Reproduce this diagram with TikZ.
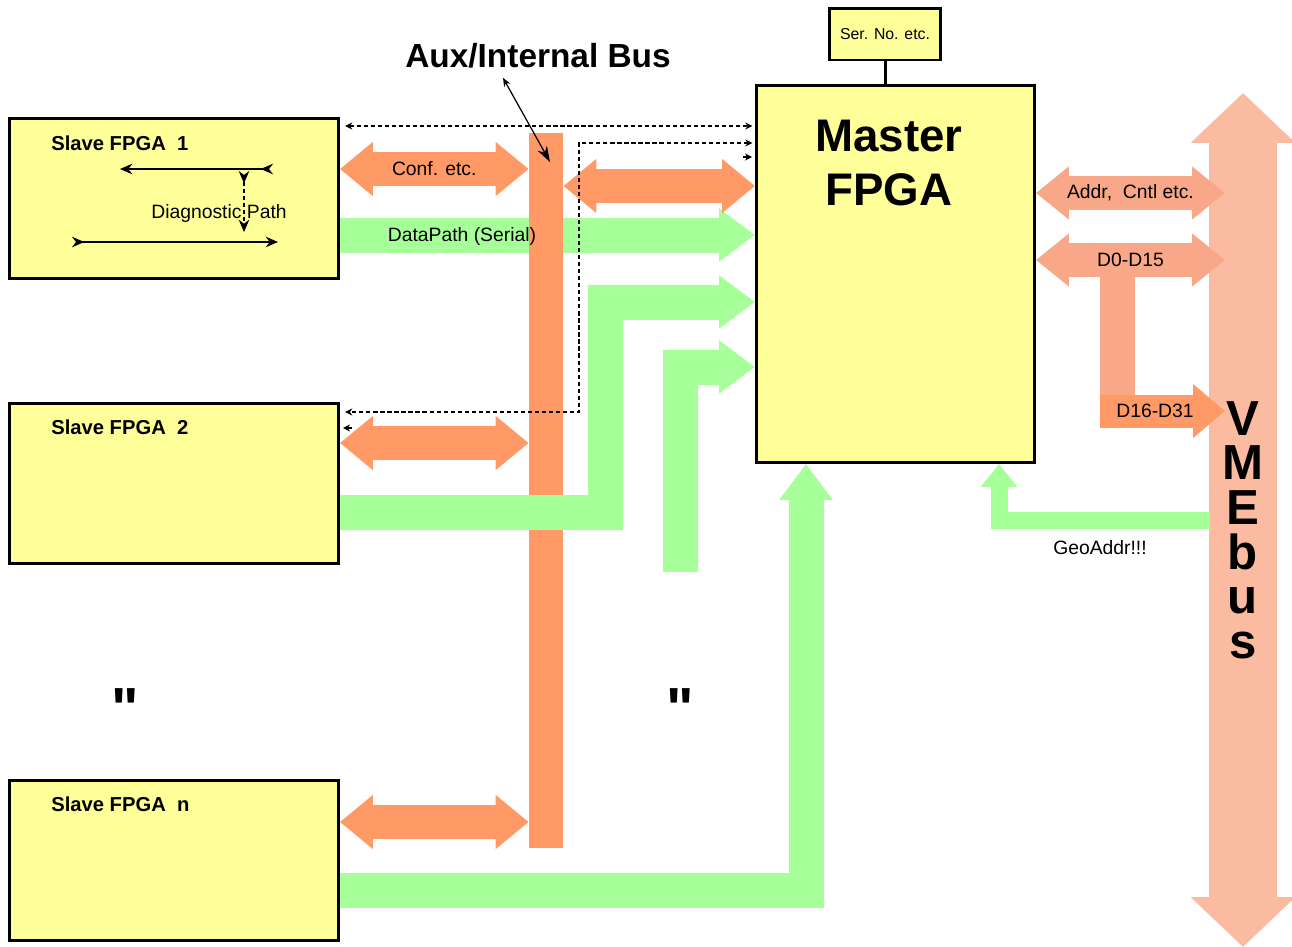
\documentclass[tikz,border=0pt]{standalone}
\usepackage{fontspec}
\setmainfont{Liberation Sans}
\usepackage{xcolor}
\usetikzlibrary{arrows,positioning}
\usetikzlibrary{arrows.meta}
\newcommand{\dittomark}{\XeTeXglyph\XeTeXglyphindex "quotedbl"\relax}
\definecolor{colorFPGA}{HTML}{FFFF99}
\definecolor{colorBus}{HTML}{FF9966}
\definecolor{colorData}{HTML}{A6FF99}
\definecolor{colorVME}{HTML}{FABBA0}
\definecolor{colorVMEsig}{HTML}{F8A888}

\begin{document}
\begin{tikzpicture}[x=0.02cm,y=-0.02cm,>=latex',every node/.append style={align=center},
    fpga/.style={draw, fill=colorFPGA, line width=1.7pt, rectangle, inner sep=0pt},
    slavebox/.style={fpga, minimum width=6.58cm, minimum height=3.2cm},
    title/.style={font=\fontsize{11.5}{13}\selectfont\bfseries, anchor=base west, inner sep=0pt},
    lbl/.style={font=\fontsize{11}{13}\selectfont, inner sep=0pt},
    ditto/.style={font=\fontsize{33}{35}\selectfont\bfseries, inner sep=0pt, anchor=north},
    conf/.style={draw=colorBus, line width=0.68cm, {Triangle[length=0.66cm,width=1.04cm]}-{Triangle[length=0.66cm,width=1.04cm]}},
    data/.style={draw=colorData, line width=0.7cm, line join=miter, -{Triangle[length=0.72cm,width=1.02cm]}},
    vmesig/.style={draw=colorVMEsig, line width=0.68cm, {Triangle[length=0.66cm,width=1.02cm]}-{Triangle[length=0.66cm,width=1.02cm]}},
    ctrl/.style={line width=0.7pt, dash pattern=on 2.4pt off 1.6pt, {Stealth[length=4pt,width=4pt]}-{Stealth[length=4pt,width=4pt]}},
    diag/.style={line width=0.8pt, {Stealth[length=7pt,width=6pt,reversed]}-{Stealth[length=7pt,width=6pt]}},
  ]
    \useasboundingbox (0,0) rectangle (1292,947);
    % VMEbus backbone
    \coordinate (vmetop) at (1243,93);
    \coordinate (vmebot) at (1243,947);
    \coordinate (vmeL) at (1225,0);
    \coordinate (geo) at (1210,520);
    \draw[colorVME, line width=1.36cm, {Triangle[length=1cm,width=2.04cm]}-{Triangle[length=1cm,width=2.04cm]}] (vmetop) -- (vmebot);
    \node[font=\fontsize{28}{25.4}\selectfont\bfseries, inner sep=0pt] (vmelbl) at (1243,530) {V\\M\\E\\b\\u\\s};
    % boards
    \node [slavebox, anchor=north west] (slave1) at (8,117) {};
    \node [slavebox, below=2.44cm of slave1] (slave2) {};
    \node [slavebox, below=4.28cm of slave2] (slaven) {};
    \node [fpga, minimum width=5.56cm, minimum height=7.54cm, anchor=north west] (master) at (755,84) {};
    \node [fpga, minimum width=2.22cm, minimum height=1.04cm, font=\fontsize{9}{11}\selectfont] (serno) at (885,34) {Ser. No. etc.};
    \draw[line width=1.7pt] (serno.south) -- (serno.south |- master.north);
    \node[font=\fontsize{26}{31}\selectfont\bfseries, inner sep=0pt] (mastertxt) at (889,163) {Master\\FPGA};
    \node[title] (title1) at ([shift={(43,33)}]slave1.north west) {Slave FPGA\ \ 1};
    \node[title] (title2) at ([shift={(43,33)}]slave2.north west) {Slave FPGA\ \ 2};
    \node[title] (titlen) at ([shift={(43,33)}]slaven.north west) {Slave FPGA\ \ n};
    \node[ditto] (ditto1) at (125,688) {\dittomark};
    \node[ditto] (ditto2) at (680,688) {\dittomark};
    % VME side
    \draw[vmesig] (master.east |- 0,193) -- (vmeL |- 0,193) node[lbl, midway, text=black] {Addr,\ \ Cntl etc.};
    \draw[colorVMEsig, line width=0.7cm] (1117,260) -- (1117,395);
    \draw[vmesig] (master.east |- 0,260) -- (vmeL |- 0,260) node[lbl, midway, text=black] {D0-D15};
    \draw[colorBus, line width=0.66cm, -{Triangle[length=0.64cm,width=1.04cm]}] (1100,411) -- (vmeL |- 0,411) node[lbl, pos=0.44, text=black] {D16-D31};
    \draw[colorData, line width=0.34cm, line join=miter, -{Triangle[length=0.46cm,width=0.7cm]}] (geo) -| (master.south -| 999,0);
    \node[lbl] (geolbl) at (1100,548) {GeoAddr!!!};
    % data path under the aux bus
    \draw[data] (slave1.east |- 0,235) -- (master.west |- 0,235);
    \node[fill=colorBus, minimum width=0.68cm, minimum height=14.3cm, inner sep=0pt, anchor=north] (auxbus) at (546,133) {};
    \node[lbl] (datalbl) at (462,236) {DataPath (Serial)};
    \node[font=\fontsize{19}{22}\selectfont\bfseries, inner sep=0pt] (auxlbl) at (538,56) {Aux/Internal Bus};
    \draw[line width=0.7pt, {Stealth[length=5pt,width=4pt]}-{Stealth[length=9pt,width=6pt]}] ([shift={(-35,9)}]auxlbl.south) -- ([shift={(4,29)}]auxbus.north);
    % config links
    \draw[conf] (slave1.east |- 0,169) -- (auxbus.west |- 0,169) node[lbl, midway, text=black] {Conf. etc.};
    \draw[conf] (auxbus.east |- 0,186) -- (master.west |- 0,186);
    \draw[conf] (slave2.east |- 0,443) -- (auxbus.west |- 0,443);
    \draw[conf] (slaven.east |- 0,822) -- (auxbus.west |- 0,822);
    % serial data links
    \coordinate (feed3) at (680,572);
    \draw[data] (slave2.east |- 0,512) -| (605,302) -- (master.west |- 0,302);
    \draw[data] (feed3) |- (master.west |- 0,367);
    \draw[data] (slaven.east |- 0,890) -| (master.south -| 806,0);
    % control lines
    \draw[ctrl, shorten <=3pt, shorten >=1.5pt] (slave1.east |- 0,126) -- (master.west |- 0,126);
    \draw[ctrl, shorten <=1.5pt, shorten >=3pt] (master.west |- 0,143) -| (579,412) -- (slave2.east |- 0,412);
    \draw[line width=0.7pt, -{Stealth[length=4pt,width=4pt]}] (743,157) -- ++(9,0);
    \draw[line width=0.7pt, -{Stealth[length=4pt,width=4pt]}] (352,428) -- ++(-9,0);
    % diagnostic path inside slave 1
    \coordinate (dg1) at (273,169);
    \coordinate (dg2) at (120,169);
    \coordinate (dg3) at (72,242);
    \coordinate (dg4) at (278,242);
    \draw[diag] (dg1) -- (dg2);
    \draw[diag] (dg3) -- (dg4);
    \draw[diag, dash pattern=on 2.5pt off 1.5pt, line width=0.6pt] (244,171) -- (244,232);
    \node[lbl, anchor=base west] (diaglbl) at (151,218) {Diagnostic Path};
\end{tikzpicture}
\end{document}
